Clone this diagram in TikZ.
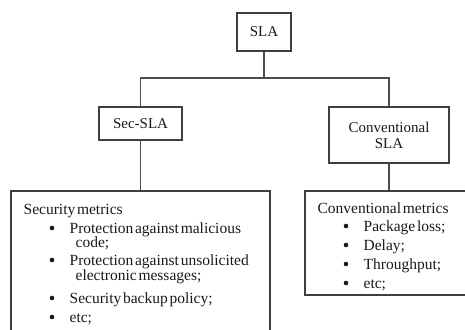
\documentclass[tikz,border=0pt]{standalone}
\usepackage{fontspec}
\setmainfont{Liberation Serif}
\newfontfamily\listfont[WordSpace=0.45]{Liberation Serif}
\begin{document}
\begin{tikzpicture}[x=1pt,y=-1pt,
  line width=1.3pt,
  box/.style={draw=black!75, inner sep=0pt, align=center, text=black!90,
    font=\fontsize{15}{17}\selectfont},
  txt/.style={anchor=base west, inner sep=0pt, text=black!90,
    font=\listfont\fontsize{15.5}{18}\selectfont},
  bul/.style={circle, fill=black!90, draw=none, inner sep=0pt, minimum size=4.6pt},
  link/.style={draw=black!70}]
\useasboundingbox (0,0) rectangle (465,329);
\clip (0,0) rectangle (465,329);

% hierarchy boxes
\node[box, minimum width=54pt, minimum height=38pt] (sla) at (264,32) {SLA};
\node[box, minimum width=83pt, minimum height=33pt] (sec) at (140.5,123.5) {Sec-SLA};
\node[box, minimum width=120pt, minimum height=56pt] (conv) at (389,135) {Conventional\\[-1pt]SLA};

% metric boxes (running past the page edges)
\node[box, minimum width=259pt, minimum height=170pt] (secm) at (140.5,276) {};
\node[box, minimum width=170pt, minimum height=104pt] (convm) at (390,243) {};

% connectors
\coordinate (j) at (264,78);
\draw[link] (sla.south) -- (j);
\draw[link] (sec.north) |- (j) -| (conv.north);
\draw[link] (sec.south) -- (sec.south |- secm.north);
\draw[link] (conv.south) -- (conv.south |- convm.north);

% security metrics list
\node[txt] (s0) at (23,214) {Security metrics};
\node[bul] (sb1) at (52,228) {};
\node[txt] (s1) at (69,233) {Protection against malicious};
\node[txt] (s1b) at (75,247) {code;};
\node[bul] (sb2) at (52,260) {};
\node[txt] (s2) at (69,265) {Protection against unsolicited};
\node[txt] (s2b) at (75,280) {electronic messages;};
\node[bul] (sb3) at (52,298) {};
\node[txt] (s3) at (69,303) {Security backup policy;};
\node[bul] (sb4) at (52,317) {};
\node[txt] (s4) at (69,322) {etc;};

% conventional metrics list
\node[txt] (c0) at (317,213) {Conventional metrics};
\node[bul] (cb1) at (346,226) {};
\node[txt] (c1) at (363,231) {Package loss;};
\node[bul] (cb2) at (346,245) {};
\node[txt] (c2) at (363,250) {Delay;};
\node[bul] (cb3) at (346,264) {};
\node[txt] (c3) at (363,269) {Throughput;};
\node[bul] (cb4) at (346,283) {};
\node[txt] (c4) at (363,288) {etc;};
\end{tikzpicture}
\end{document}
